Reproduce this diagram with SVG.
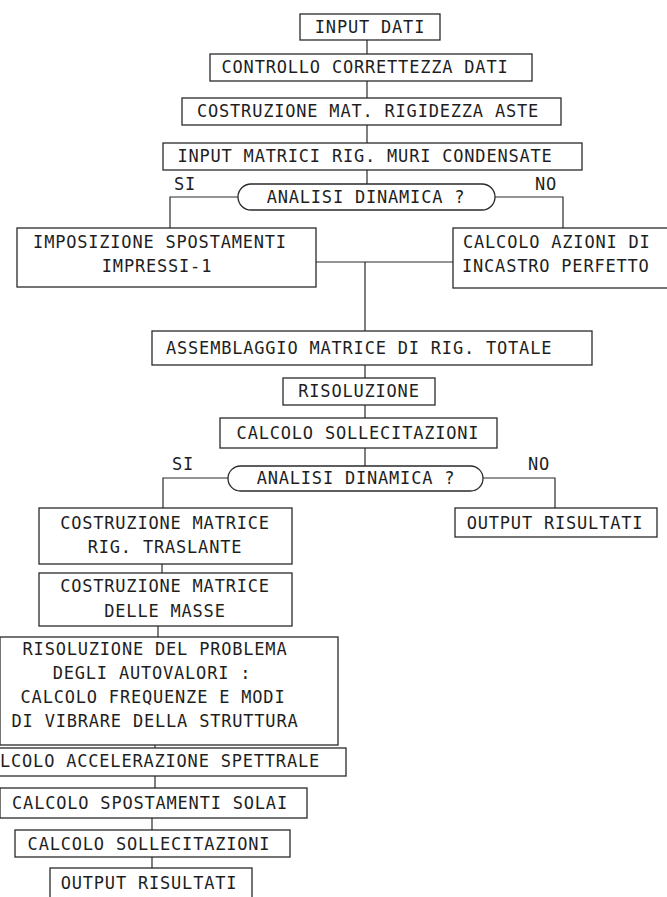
<svg xmlns="http://www.w3.org/2000/svg" width="667" height="897" viewBox="0 0 667 897">
<style>
  .box{fill:none;stroke:#2a2a2a;stroke-width:1.3}
  .ln{fill:none;stroke:#2a2a2a;stroke-width:1.2}
  text{font-family:"DejaVu Sans Mono","Liberation Mono",monospace;font-size:17px;letter-spacing:0.8px;fill:#1e1e1e}
  .c{text-anchor:middle}
</style>
<rect width="667" height="897" fill="#ffffff"/>
<g id="connectors">
  <path class="ln" d="M367 40V54M367 81V98M367 125V143M367 170V184"/>
  <path class="ln" d="M238 197H170V228M495 197H563V228"/>
  <path class="ln" d="M316 262H453M365 262V331"/>
  <path class="ln" d="M365 365V378M365 405V418M365 448V466"/>
  <path class="ln" d="M228 478H163V508M483 478H555V508"/>
  <path class="ln" d="M162 564V573M158 626V637M155 745V748M155 776V788M152 818V830M152 857V868"/>
</g>
<g id="n1"><rect class="box" x="300" y="14" width="140" height="26"/><text class="c" x="370" y="33">INPUT DATI</text></g>
<g id="n2"><rect class="box" x="210" y="54" width="322" height="27"/><text class="c" x="365" y="73">CONTROLLO CORRETTEZZA DATI</text></g>
<g id="n3"><rect class="box" x="182" y="98" width="379" height="27"/><text class="c" x="368" y="117">COSTRUZIONE MAT. RIGIDEZZA ASTE</text></g>
<g id="n4"><rect class="box" x="163" y="143" width="419" height="27"/><text class="c" x="365" y="162">INPUT MATRICI RIG. MURI CONDENSATE</text></g>
<g id="d1"><rect class="box" x="238" y="184" width="257" height="26" rx="13"/><text class="c" x="366" y="203">ANALISI DINAMICA ?</text>
  <text x="174" y="190">SI</text><text x="535" y="190">NO</text></g>
<g id="n5"><rect class="box" x="17" y="228" width="299" height="59"/><text class="c" x="160" y="248">IMPOSIZIONE SPOSTAMENTI</text><text class="c" x="157" y="272">IMPRESSI-1</text></g>
<g id="n6"><rect class="box" x="453" y="228" width="240" height="60"/><text x="463" y="248">CALCOLO AZIONI DI</text><text x="462" y="272">INCASTRO PERFETTO</text></g>
<g id="n7"><rect class="box" x="152" y="331" width="440" height="34"/><text x="166" y="354">ASSEMBLAGGIO MATRICE DI RIG. TOTALE</text></g>
<g id="n8"><rect class="box" x="283" y="378" width="152" height="27"/><text class="c" x="359" y="397">RISOLUZIONE</text></g>
<g id="n9"><rect class="box" x="220" y="418" width="277" height="30"/><text class="c" x="358" y="439">CALCOLO SOLLECITAZIONI</text></g>
<g id="d2"><rect class="box" x="228" y="466" width="255" height="25" rx="12.5"/><text class="c" x="356" y="484">ANALISI DINAMICA ?</text>
  <text x="172" y="470">SI</text><text x="528" y="470">NO</text></g>
<g id="n10"><rect class="box" x="39" y="508" width="253" height="56"/><text class="c" x="165" y="529">COSTRUZIONE MATRICE</text><text class="c" x="165" y="553">RIG. TRASLANTE</text></g>
<g id="n11"><rect class="box" x="455" y="508" width="202" height="29"/><text class="c" x="555" y="529">OUTPUT RISULTATI</text></g>
<g id="n12"><rect class="box" x="39" y="573" width="253" height="53"/><text class="c" x="165" y="592">COSTRUZIONE MATRICE</text><text class="c" x="165" y="617">DELLE MASSE</text></g>
<g id="n13"><rect class="box" x="0" y="637" width="338" height="108"/>
  <text class="c" x="155" y="655">RISOLUZIONE DEL PROBLEMA</text>
  <text class="c" x="152" y="679">DEGLI AUTOVALORI :</text>
  <text class="c" x="153" y="703">CALCOLO FREQUENZE E MODI</text>
  <text class="c" x="155" y="727">DI VIBRARE DELLA STRUTTURA</text></g>
<g id="n14"><rect class="box" x="-5" y="748" width="351" height="28"/><text x="0" y="767">LCOLO ACCELERAZIONE SPETTRALE</text></g>
<g id="n15"><rect class="box" x="0" y="788" width="307" height="30"/><text class="c" x="150" y="809">CALCOLO SPOSTAMENTI SOLAI</text></g>
<g id="n16"><rect class="box" x="15" y="830" width="275" height="27"/><text class="c" x="149" y="850">CALCOLO SOLLECITAZIONI</text></g>
<g id="n17"><rect class="box" x="50" y="868" width="202" height="40"/><text class="c" x="149" y="889">OUTPUT RISULTATI</text></g>
</svg>
